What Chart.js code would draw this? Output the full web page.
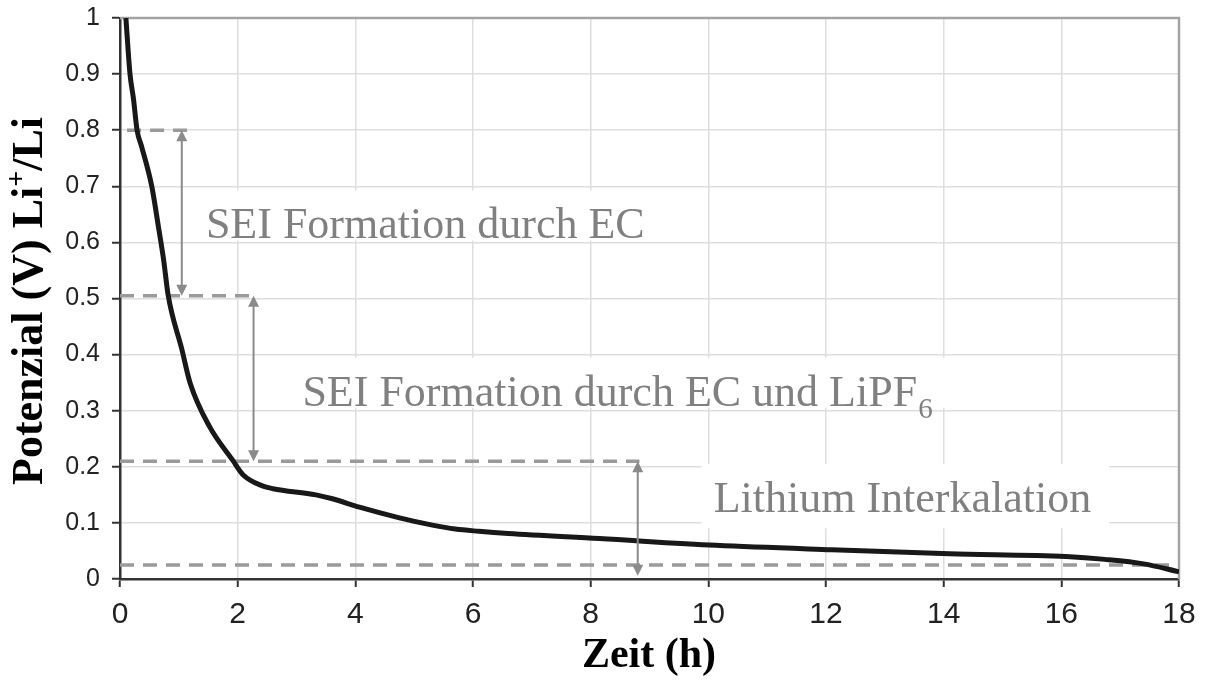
<!DOCTYPE html>
<html>
<head>
<meta charset="utf-8">
<script src="https://cdn.jsdelivr.net/npm/chart.js@4.4.1/dist/chart.umd.min.js"></script>
<style>
  html, body { margin: 0; padding: 0; background: #fff; }
  canvas { display: block; }
</style>
</head>
<body>
<canvas id="potentialChart" width="1210" height="688"></canvas>
<script>
// Zeit in Stunden und Potenzial gegen Li+/Li
var hours = [0.1, 0.17, 0.23, 0.29, 0.37, 0.54, 0.65, 0.74, 0.82, 1.05, 1.19, 1.52, 1.92, 2.09, 2.42, 2.6,
             3.33, 3.61, 4.07, 4.75, 5.31, 5.7, 6.1, 6.6, 8.15, 10.13, 12.1, 14.1, 16.08, 16.74, 17.4, 18];
var potential = [1.0, 0.90, 0.855, 0.80, 0.77, 0.70, 0.63, 0.57, 0.505, 0.41, 0.35, 0.272, 0.211, 0.186, 0.166, 0.161,
                 0.150, 0.143, 0.128, 0.109, 0.096, 0.089, 0.085, 0.081, 0.072, 0.060, 0.052, 0.045, 0.040, 0.035, 0.027, 0.013];

// Grenzen der Bereiche (V) und die Beschriftungen dazu
var phaseBounds = [0.8, 0.505, 0.21, 0.025];
var phaseLabels = ['SEI Formation durch EC', 'SEI Formation durch EC und LiPF', 'Lithium Interkalation'];
var phaseSubs = ['', '6', ''];

var xTitle = 'Zeit (h)';
var yTitle = ['Potenzial (V) Li', '+', '/Li'];

var points = hours.map(function (h, i) { return { x: h, y: potential[i] }; });

var GRID = '#dedede';
var AXIS = '#333333';
var GUIDE = '#9a9a9a';
var ARROW = '#8a8a8a';
var LABEL = '#808080';

function arrowHead(ctx, x, y, dir) {
    ctx.beginPath();
    ctx.moveTo(x, y);
    ctx.lineTo(x - 5.5, y - dir * 11);
    ctx.lineTo(x + 5.5, y - dir * 11);
    ctx.closePath();
    ctx.fill();
}

function doubleArrow(ctx, x, y1, y2) {
    var dir = y2 > y1 ? 1 : -1;
    ctx.beginPath();
    ctx.moveTo(x, y1 + dir * 8);
    ctx.lineTo(x, y2 - dir * 8);
    ctx.stroke();
    arrowHead(ctx, x, y1, -dir);
    arrowHead(ctx, x, y2, dir);
}

// Ankerpunkte (h, V) der Beschriftungen, linke Kante / Grundlinie
var anchors = [[1.46, 0.607], [3.1, 0.309], [10.09, 0.119]];

var overlay = {
    id: 'overlay',
    beforeDatasetsDraw: function (chart) {
        var ctx = chart.ctx, a = chart.chartArea, xs = chart.scales.x, ys = chart.scales.y;
        ctx.save();

        // weisse Flaechen hinter den Beschriftungen
        var below = [2, 2, 16];
        ctx.font = '44px "Liberation Serif"';
        ctx.fillStyle = '#ffffff';
        phaseLabels.forEach(function (t, i) {
            var px = xs.getPixelForValue(anchors[i][0]);
            var py = ys.getPixelForValue(anchors[i][1]);
            var w = ctx.measureText(t).width + (phaseSubs[i] ? 22 : 0);
            ctx.fillRect(px - 12, py - 48, w + 30, 48 + below[i]);
        });

        // Rahmen oben und rechts
        ctx.strokeStyle = '#a3a3a3';
        ctx.lineWidth = 2.5;
        ctx.beginPath();
        ctx.moveTo(a.left, a.top);
        ctx.lineTo(a.right, a.top);
        ctx.lineTo(a.right, a.bottom);
        ctx.stroke();

        // gestrichelte Hilfslinien
        var spans = [[0.12, 1.22], [0, 2.32], [0, 8.83], [0, 18]];
        ctx.strokeStyle = GUIDE;
        ctx.lineWidth = 3.5;
        ctx.setLineDash([14, 9]);
        phaseBounds.forEach(function (v, i) {
            var py = ys.getPixelForValue(v);
            ctx.beginPath();
            ctx.moveTo(xs.getPixelForValue(spans[i][0]), py);
            ctx.lineTo(xs.getPixelForValue(spans[i][1]), py);
            ctx.stroke();
        });
        ctx.restore();
    },
    afterDatasetsDraw: function (chart) {
        var ctx = chart.ctx, xs = chart.scales.x, ys = chart.scales.y;
        ctx.save();

        // Doppelpfeile zwischen den Grenzen
        var arrowAt = [1.05, 2.27, 8.8];
        var arrowEnds = [[phaseBounds[0], phaseBounds[1]], [phaseBounds[1], phaseBounds[2]], [phaseBounds[2], 0.006]];
        ctx.strokeStyle = ARROW;
        ctx.fillStyle = ARROW;
        ctx.lineWidth = 2;
        arrowAt.forEach(function (h, i) {
            doubleArrow(ctx, xs.getPixelForValue(h),
                ys.getPixelForValue(arrowEnds[i][0]), ys.getPixelForValue(arrowEnds[i][1]));
        });

        // Beschriftungen der Bereiche
        ctx.fillStyle = LABEL;
        ctx.textBaseline = 'alphabetic';
        phaseLabels.forEach(function (t, i) {
            var px = xs.getPixelForValue(anchors[i][0]);
            var py = ys.getPixelForValue(anchors[i][1]);
            ctx.font = '44px "Liberation Serif"';
            ctx.fillText(t, px, py);
            if (phaseSubs[i]) {
                var w = ctx.measureText(t).width;
                ctx.font = '29px "Liberation Serif"';
                ctx.fillText(phaseSubs[i], px + w + 1, py + 12);
            }
        });

        // Achsentitel
        ctx.fillStyle = '#000000';
        ctx.font = 'bold 42px "Liberation Serif"';
        ctx.textAlign = 'center';
        ctx.fillText(xTitle, 649, 667);

        ctx.textAlign = 'left';
        ctx.translate(42, 301);
        ctx.rotate(-Math.PI / 2);
        ctx.font = 'bold 44px "Liberation Serif"';
        var w0 = ctx.measureText(yTitle[0]).width;
        var w2 = ctx.measureText(yTitle[2]).width;
        ctx.font = 'bold 28px "Liberation Serif"';
        var w1 = ctx.measureText(yTitle[1]).width;
        var start = -(w0 + w1 + w2) / 2;
        ctx.font = 'bold 44px "Liberation Serif"';
        ctx.fillText(yTitle[0], start, 0);
        ctx.fillText(yTitle[2], start + w0 + w1, 0);
        ctx.font = 'bold 28px "Liberation Serif"';
        ctx.fillText(yTitle[1], start + w0, -17);
        ctx.restore();

        // abgeschnittener Rest der Ueberschrift
        ctx.save();
        ctx.fillStyle = '#4a7fc1';
        ctx.font = 'bold 30px "Liberation Serif"';
        ctx.fillText('p', 182, -6);
        ctx.restore();
    }
};

var ctxP = document.getElementById('potentialChart').getContext('2d');

var potentialChart = new Chart(ctxP, {
    type: 'line',
    data: {
        datasets: [{
            label: 'Potenzial',
            data: points,
            borderColor: '#181818',
            borderWidth: 5,
            pointRadius: 0,
            fill: false,
            cubicInterpolationMode: 'monotone'
        }]
    },
    options: {
        responsive: false,
        animation: false,
        devicePixelRatio: 1,
        layout: { padding: { top: 18, right: 31, left: 0, bottom: 0 } },
        plugins: {
            legend: { display: false },
            tooltip: { enabled: false }
        },
        scales: {
            x: {
                type: 'linear',
                min: 0,
                max: 18,
                ticks: {
                    stepSize: 2,
                    color: '#222',
                    padding: 10,
                    font: { family: '"Liberation Sans"', size: 30 }
                },
                grid: { color: GRID, lineWidth: 1.5, tickLength: 8, tickColor: AXIS, tickWidth: 2 },
                border: { color: AXIS, width: 2.5 },
                afterFit: function (s) {
                    s.height = 109;
                    s.paddingLeft = 0;
                    s.paddingRight = 0;
                }
            },
            y: {
                min: 0,
                max: 1,
                ticks: {
                    stepSize: 0.1,
                    color: '#222',
                    padding: 12,
                    font: { family: '"Liberation Sans"', size: 25 },
                    callback: function (v) { return String(Number(v.toFixed(1))); }
                },
                grid: { color: GRID, lineWidth: 1.5, tickLength: 8, tickColor: AXIS, tickWidth: 2 },
                border: { color: AXIS, width: 2.5 },
                afterFit: function (s) {
                    s.width = 120;
                    s.paddingTop = 0;
                    s.paddingBottom = 0;
                }
            }
        }
    },
    plugins: [overlay]
});
</script>
</body>
</html>
